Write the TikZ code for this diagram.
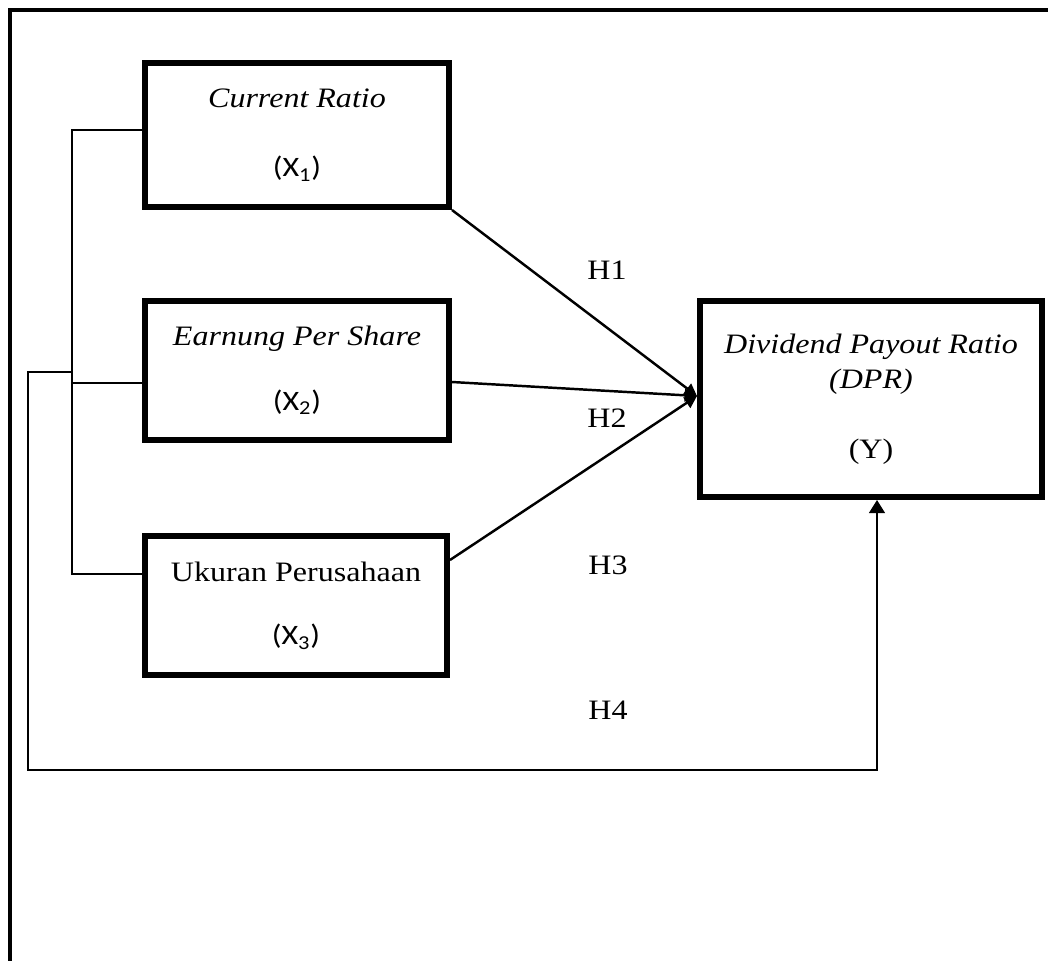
\documentclass[tikz,border=0pt]{standalone}
\usepackage{fontspec}
\setmainfont[FakeStretch=1.14]{Liberation Serif}
\newfontfamily\calib[FakeStretch=1.14]{Carlito}
\usetikzlibrary{arrows.meta}

\begin{document}
\begin{tikzpicture}[x=0.02cm,y=-0.02cm,
    var/.style={draw,line width=3.4pt,align=center,inner sep=0pt,
      font=\fontsize{16}{19.8}\selectfont},
    hyp/.style={font=\fontsize{16}{19.8}\selectfont},
    link/.style={line width=1.3pt},
    every edge/.style={draw,line width=1.4pt,-{Triangle[length=7pt,width=7pt]}}]
  \useasboundingbox (0,0) rectangle (1048,961);

  % page frame
  \draw[line width=1.8pt] (1048,10) -- (10,10) -- (10,961);

  \node[var,minimum width=6.08cm,minimum height=2.88cm] (X1) at (297,135)
    {\textit{Current Ratio}\\[19.9pt]{\calib(X\textsubscript{1})}};
  \node[var,minimum width=6.08cm,minimum height=2.78cm] (X2) at (297,370.5)
    {\textit{Earnung Per Share}\\[17pt]{\calib(X\textsubscript{2})}};
  \node[var,minimum width=6.04cm,minimum height=2.78cm] (X3) at (296,605.5)
    {Ukuran Perusahaan\\[16.5pt]{\calib(X\textsubscript{3})}};
  \node[var,minimum width=6.84cm,minimum height=3.92cm] (Y) at (871,399)
    {\textit{Dividend Payout Ratio}\\\textit{(DPR)}\\[19.9pt](Y)};

  \node[hyp] (H1) at (607,270) {H1};
  \node[hyp] (H2) at (607,418) {H2};
  \node[hyp] (H3) at (608,565) {H3};
  \node[hyp] (H4) at (608,710) {H4};

  % joints of the left bracket and the H4 loop
  \coordinate (b top) at (72,130);
  \coordinate (b mid) at (72,383);
  \coordinate (b bot) at (72,574);
  \coordinate (h4 start) at (72,372);
  \coordinate (h4 corner) at (28,770);
  \coordinate (dpr in) at (697,396);

  \draw[link] (X1.west |- b top) -- (b top) -- (b bot) -- (X3.west |- b bot);
  \draw[link] (b mid) -- (X2.west |- b mid);

  \draw (X1.south east) edge (dpr in);
  \draw ([yshift=-0.23cm]X2.east) edge (dpr in);
  \draw ([yshift=0.91cm]X3.east) edge (dpr in);

  \draw[link,-{Triangle[length=7.5pt,width=9pt]}]
    (h4 start) -| (h4 corner) -| ([xshift=0.12cm]Y.south);
\end{tikzpicture}
\end{document}
